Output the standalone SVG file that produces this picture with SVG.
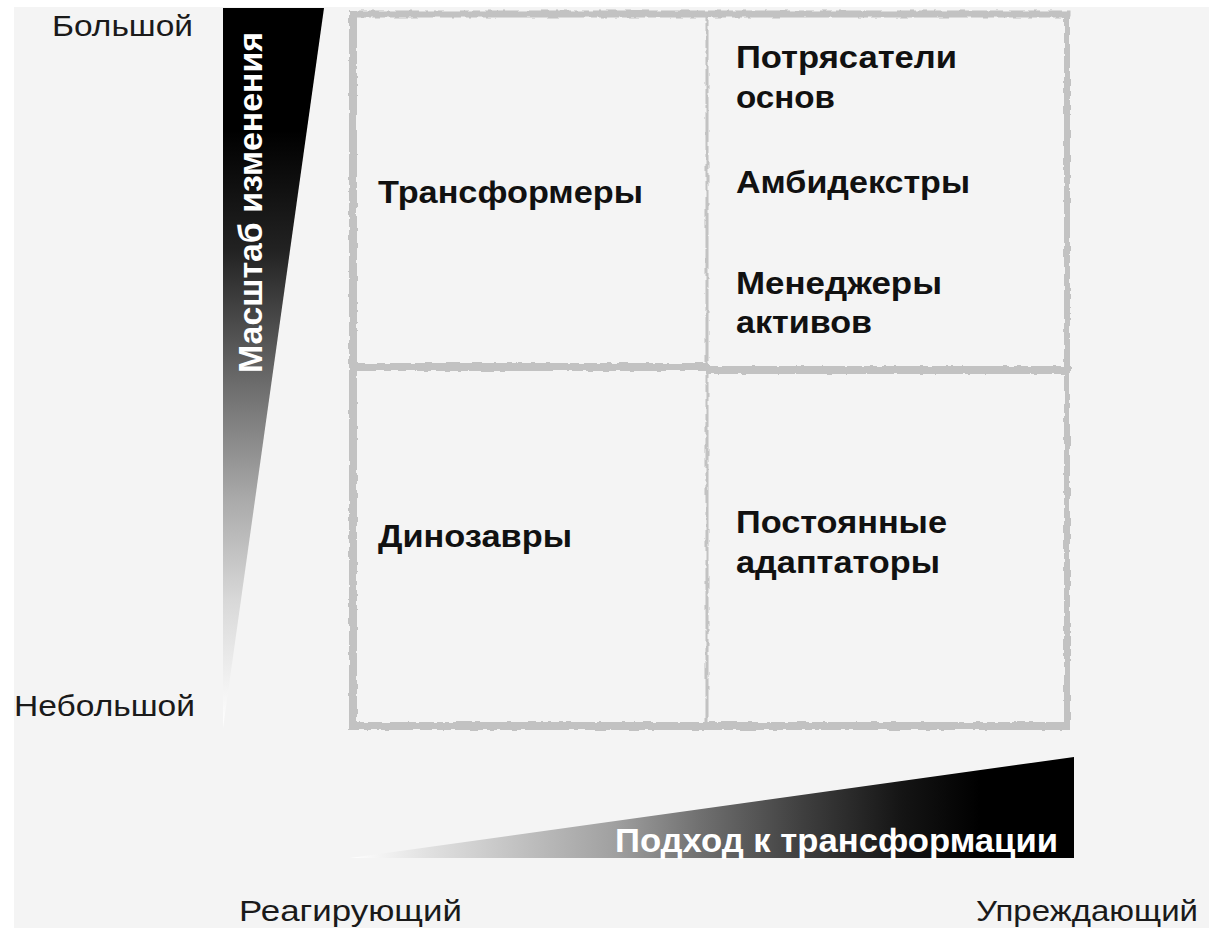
<svg xmlns="http://www.w3.org/2000/svg" width="1213" height="929" viewBox="0 0 1213 929">
<style>
.lbl{font-family:"Liberation Sans",Arial,Helvetica,sans-serif;font-size:30px;fill:#1a1a1a}
.cell{font-family:"Liberation Sans",Arial,Helvetica,sans-serif;font-size:32px;font-weight:bold;fill:#111}
.axis{font-family:"Liberation Sans",Arial,Helvetica,sans-serif;font-size:33px;font-weight:bold;fill:#fff}
.gl{stroke:#c2c2c2;stroke-linecap:square;fill:none}
</style>
<defs>
<linearGradient id="gv" gradientUnits="userSpaceOnUse" x1="0" y1="8" x2="0" y2="728">
<stop offset="0" stop-color="#000"/>
<stop offset="0.17" stop-color="#000"/>
<stop offset="0.336" stop-color="#222"/>
<stop offset="0.507" stop-color="#666"/>
<stop offset="0.683" stop-color="#aaa"/>
<stop offset="0.822" stop-color="#d8d8d8"/>
<stop offset="1" stop-color="#fff"/>
</linearGradient>
<linearGradient id="gh" gradientUnits="userSpaceOnUse" x1="350" y1="0" x2="1074" y2="0">
<stop offset="0" stop-color="#fff"/>
<stop offset="0.11" stop-color="#e0e0e0"/>
<stop offset="0.366" stop-color="#a0a0a0"/>
<stop offset="0.483" stop-color="#707070"/>
<stop offset="0.622" stop-color="#404040"/>
<stop offset="0.76" stop-color="#151515"/>
<stop offset="0.87" stop-color="#000"/>
<stop offset="1" stop-color="#000"/>
</linearGradient>
<filter id="rough" x="-2%" y="-2%" width="104%" height="104%">
<feTurbulence type="fractalNoise" baseFrequency="0.12" numOctaves="2" seed="3" result="n"/>
<feDisplacementMap in="SourceGraphic" in2="n" scale="4" xChannelSelector="R" yChannelSelector="G"/>
</filter>
</defs>
<rect x="0" y="0" width="1213" height="929" fill="#fff"/>
<rect x="14" y="7" width="1195" height="921" fill="#f4f4f4"/>

<g id="axis-y">
<polygon points="223,8 324,8 223,728" fill="url(#gv)"/>
<text class="axis" transform="translate(262,373) rotate(-90)" x="0" y="0" textLength="341" lengthAdjust="spacingAndGlyphs">Масштаб изменения</text>
<text id="y-high" class="lbl" x="52" y="36" textLength="141" lengthAdjust="spacingAndGlyphs">Большой</text>
<text id="y-low" class="lbl" x="14" y="716" textLength="181" lengthAdjust="spacingAndGlyphs">Небольшой</text>
</g>

<g id="axis-x">
<polygon points="350,858 1074,757 1074,858" fill="url(#gh)"/>
<text class="axis" x="615" y="852" textLength="443" lengthAdjust="spacingAndGlyphs">Подход к трансформации</text>
<text id="x-low" class="lbl" x="239" y="921" textLength="223" lengthAdjust="spacingAndGlyphs">Реагирующий</text>
<text id="x-high" class="lbl" x="976" y="921" textLength="222" lengthAdjust="spacingAndGlyphs">Упреждающий</text>
</g>

<g id="connectors" filter="url(#rough)">
<line class="gl" x1="353" y1="14" x2="353" y2="726" stroke-width="8"/>
<line class="gl" x1="353" y1="14" x2="1067" y2="14" stroke-width="7"/>
<line class="gl" x1="1067" y1="14" x2="1067" y2="726" stroke-width="6"/>
<line class="gl" x1="353" y1="726" x2="1066" y2="726" stroke-width="8"/>
<line class="gl" x1="353" y1="367" x2="706" y2="367" stroke-width="8"/>
<line class="gl" x1="709" y1="370" x2="1067" y2="370" stroke-width="8"/>
<line class="gl" x1="707" y1="14" x2="707" y2="726" stroke-width="3" stroke="#c8c8c8"/>
</g>

<g id="node-transformers">
<text class="cell" x="378" y="203" textLength="265" lengthAdjust="spacingAndGlyphs">Трансформеры</text>
</g>
<g id="node-shakers">
<text class="cell" x="736" y="68" textLength="221" lengthAdjust="spacingAndGlyphs">Потрясатели</text>
<text class="cell" x="736" y="108" textLength="99" lengthAdjust="spacingAndGlyphs">основ</text>
</g>
<g id="node-ambidexters">
<text class="cell" x="736" y="193" textLength="234" lengthAdjust="spacingAndGlyphs">Амбидекстры</text>
</g>
<g id="node-asset-managers">
<text class="cell" x="736" y="294" textLength="206" lengthAdjust="spacingAndGlyphs">Менеджеры</text>
<text class="cell" x="736" y="333" textLength="136" lengthAdjust="spacingAndGlyphs">активов</text>
</g>
<g id="node-dinosaurs">
<text class="cell" x="378" y="547" textLength="194" lengthAdjust="spacingAndGlyphs">Динозавры</text>
</g>
<g id="node-adapters">
<text class="cell" x="736" y="533" textLength="211" lengthAdjust="spacingAndGlyphs">Постоянные</text>
<text class="cell" x="736" y="573" textLength="204" lengthAdjust="spacingAndGlyphs">адаптаторы</text>
</g>
</svg>
